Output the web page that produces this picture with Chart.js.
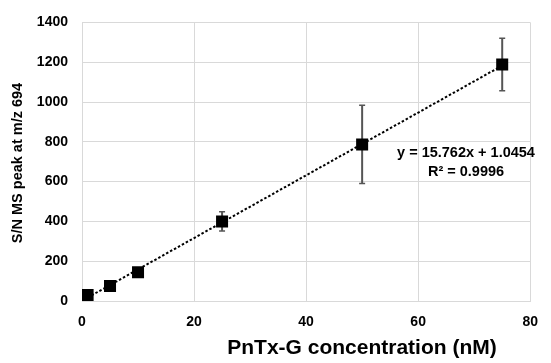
<!DOCTYPE html>
<html>
<head>
<meta charset="utf-8">
<script src="https://cdn.jsdelivr.net/npm/chart.js@4.4.1/dist/chart.umd.min.js"></script>
<style>
  html, body { margin: 0; padding: 0; background: #fff; }
  #wrap { position: relative; width: 551px; height: 363px; }
</style>
</head>
<body>
<div id="wrap"><canvas id="chart" width="551" height="363"></canvas></div>
<script>
// Calibration data
const concentrations = [1, 5, 10, 25, 50, 75];
const snPeak = [30, 75, 145, 400, 787, 1188];
const snError = [0, 0, 0, 48, 197, 132];
// Excel trendline, drawn between first and last standard
const trendX = [1, 75];
const trendY = [17, 1183];
const xTicks = [0, 20, 40, 60, 80];
const yTicks = [0, 200, 400, 600, 800, 1000, 1200, 1400];

const equationText = 'y = 15.762x + 1.0454';
const r2Text = 'R\u00B2 = 0.9996';
const xTitle = 'PnTx-G concentration (nM)';
const yTitle = 'S/N MS peak at m/z 694';

const gridColor = '#d9d9d9';
const tickFont = { family: 'Liberation Sans', size: 14, weight: 'bold' };

// error bars + annotation text
const extras = {
  id: 'extras',
  beforeDatasetsDraw(chart) {
    const { ctx, scales: { x, y } } = chart;
    ctx.save();
    ctx.strokeStyle = '#555';
    concentrations.forEach((c, i) => {
      if (!snError[i]) return;
      const px = x.getPixelForValue(c);
      const top = y.getPixelForValue(snPeak[i] + snError[i]);
      const bot = y.getPixelForValue(snPeak[i] - snError[i]);
      ctx.lineWidth = 2;
      ctx.beginPath();
      ctx.moveTo(px, top);
      ctx.lineTo(px, bot);
      ctx.stroke();
      ctx.lineWidth = 1.5;
      ctx.beginPath();
      ctx.moveTo(px - 3, top); ctx.lineTo(px + 3, top);
      ctx.moveTo(px - 3, bot); ctx.lineTo(px + 3, bot);
      ctx.stroke();
    });
    ctx.restore();
  },
  afterDraw(chart) {
    const { ctx } = chart;
    ctx.save();
    ctx.fillStyle = '#000';
    ctx.textAlign = 'center';
    ctx.textBaseline = 'middle';
    ctx.font = 'bold 14.5px "Liberation Sans"';
    ctx.fillText(equationText, 466, 153);
    ctx.fillText(r2Text, 466, 172);

    ctx.font = 'bold 21px "Liberation Sans"';
    ctx.fillText(xTitle, 362, 348);

    ctx.translate(18, 163);
    ctx.rotate(-Math.PI / 2);
    ctx.font = 'bold 14.5px "Liberation Sans"';
    ctx.fillText(yTitle, 0, 0);
    ctx.restore();
  }
};

new Chart(document.getElementById('chart'), {
  type: 'scatter',
  data: {
    datasets: [
      {
        label: 'S/N',
        data: concentrations.map((c, i) => ({ x: c, y: snPeak[i] })),
        pointStyle: 'rect',
        pointRadius: 8.5,
        backgroundColor: '#000',
        borderColor: '#000',
        borderWidth: 0,
        showLine: false,
        order: 0,
      },
      {
        label: 'Linear',
        data: trendX.map((v, i) => ({ x: v, y: trendY[i] })),
        showLine: true,
        pointRadius: 0,
        borderColor: '#000',
        borderWidth: 2,
        borderDash: [2.5, 2],
        order: 1,
      },
    ],
  },
  options: {
    responsive: false,
    animation: false,
    layout: { padding: { left: 0, right: 10, top: 19, bottom: 0 } },
    plugins: { legend: { display: false }, tooltip: { enabled: false } },
    scales: {
      x: {
        type: 'linear',
        min: 0,
        max: 80,
        afterBuildTicks: (s) => { s.ticks = xTicks.map(v => ({ value: v })); },
        afterFit: (s) => { s.height = 62; },
        ticks: { color: '#000', font: tickFont, padding: 13, callback: (v) => String(v) },
        grid: { color: gridColor, lineWidth: 1, drawTicks: false },
        border: { color: gridColor },
      },
      y: {
        type: 'linear',
        min: 0,
        max: 1400,
        afterBuildTicks: (s) => { s.ticks = yTicks.map(v => ({ value: v })); },
        afterFit: (s) => { s.width = 82; },
        ticks: { color: '#000', font: tickFont, padding: 14, callback: (v) => String(v) },
        grid: { color: gridColor, lineWidth: 1, drawTicks: false },
        border: { color: gridColor },
      },
    },
  },
  plugins: [extras],
});
</script>
</body>
</html>
